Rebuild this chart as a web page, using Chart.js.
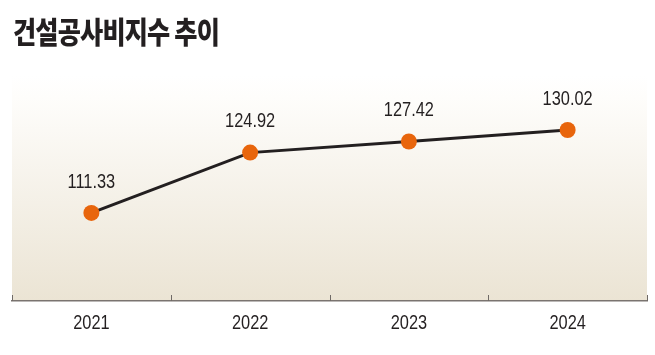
<!DOCTYPE html>
<html>
<head>
<meta charset="utf-8">
<script src="https://cdn.jsdelivr.net/npm/chart.js@4/dist/chart.umd.min.js"></script>
<style>
html,body{margin:0;padding:0;background:#fff;}
#wrap{position:relative;width:655px;height:355px;overflow:hidden;}
#title{position:absolute;left:13px;top:10px;margin:0;font-family:"Noto Sans CJK KR",sans-serif;font-weight:900;font-size:30px;line-height:40px;color:#231f20;transform:scaleX(0.84);transform-origin:left top;letter-spacing:-1px;white-space:nowrap;}
canvas{position:absolute;left:0;top:0;}
</style>
</head>
<body>
<div id="wrap">
<canvas id="grafico" width="655" height="355"></canvas>
<h1 id="title">건설공사비지수 추이</h1>
</div>
<script>
const anios = ["2021","2022","2023","2024"];
const indice = [111.33, 124.92, 127.42, 130.02];
const etiquetas = ["111.33","124.92","127.42","130.02"];

const fuente = '"Liberation Sans", Arial, sans-serif';
const estrecho = 0.78;

function textoEstrecho(ctx, txt, x, y){
  ctx.save();
  ctx.translate(x, y);
  ctx.scale(estrecho, 1);
  ctx.fillText(txt, 0, 0);
  ctx.restore();
}

// fondo degradado del area del grafico
const fondo = {
  id: 'fondo',
  beforeDraw(chart){
    const {ctx, chartArea:a} = chart;
    const g = ctx.createLinearGradient(0, a.top, 0, a.bottom);
    g.addColorStop(0, '#ffffff');
    g.addColorStop(0.1, '#fefdfb');
    g.addColorStop(1, '#ebe4d4');
    ctx.save();
    ctx.fillStyle = g;
    ctx.fillRect(a.left, a.top, a.right - a.left, a.bottom - a.top);
    ctx.restore();
  }
};

// marcas cortas entre categorias y años debajo del eje
const marcas = {
  id: 'marcas',
  afterDraw(chart){
    const {ctx, chartArea:a, scales:{x}} = chart;
    const paso = x.getPixelForValue(1) - x.getPixelForValue(0);
    ctx.save();
    ctx.strokeStyle = '#6f6a66';
    ctx.lineWidth = 1;
    for(let i=0;i<=anios.length;i++){
      let px = Math.round(x.getPixelForValue(0) - paso/2 + paso*i);
      if(px > a.right) px = a.right - 1;
      ctx.beginPath();
      ctx.moveTo(px+0.5, a.bottom - 6);
      ctx.lineTo(px+0.5, a.bottom);
      ctx.stroke();
    }
    ctx.fillStyle = '#231f20';
    ctx.font = '21px ' + fuente;
    ctx.textAlign = 'center';
    ctx.textBaseline = 'middle';
    anios.forEach((t,i)=>{
      textoEstrecho(ctx, t, x.getPixelForValue(i), a.bottom + 22);
    });
    ctx.restore();
  }
};

const valores = {
  id: 'valores',
  afterDatasetsDraw(chart){
    const {ctx} = chart;
    const meta = chart.getDatasetMeta(0);
    ctx.save();
    ctx.fillStyle = '#231f20';
    ctx.font = '21px ' + fuente;
    ctx.textAlign = 'center';
    ctx.textBaseline = 'middle';
    meta.data.forEach((p,i)=>{
      textoEstrecho(ctx, etiquetas[i], p.x, p.y - 31);
    });
    ctx.restore();
  }
};

new Chart(document.getElementById('grafico'), {
  type: 'line',
  data: {
    labels: anios,
    datasets: [{
      data: indice,
      borderColor: '#231f20',
      borderWidth: 3,
      pointRadius: 8,
      pointHoverRadius: 8,
      pointBackgroundColor: '#e8650c',
      pointBorderColor: '#e8650c',
      pointBorderWidth: 0,
      tension: 0
    }]
  },
  options: {
    responsive: false,
    animation: false,
    layout: {padding: {top: 75, left: 12, right: 2, bottom: 54}},
    plugins: {legend: {display: false}, tooltip: {enabled: false}},
    scales: {
      x: {
        offset: true,
        grid: {display: false, drawTicks: false},
        border: {display: true, color: '#7a7470', width: 1.5},
        ticks: {display: false}
      },
      y: {
        display: false,
        min: 91.5,
        max: 142.4
      }
    }
  },
  plugins: [fondo, marcas, valores]
});
</script>
</body>
</html>
